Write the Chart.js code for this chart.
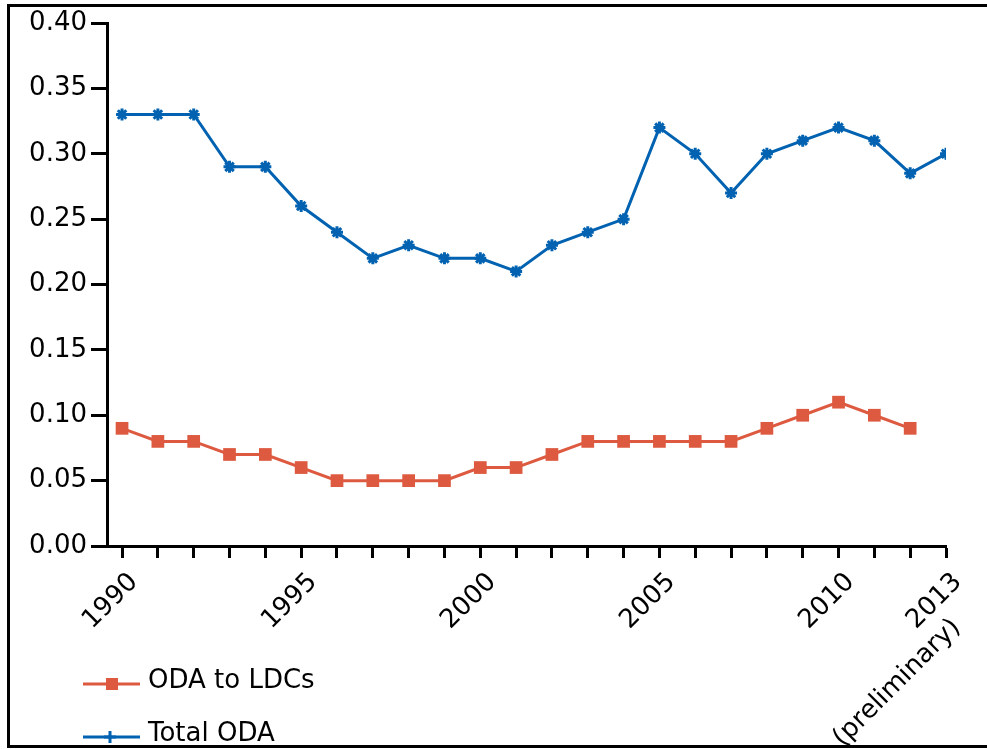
<!DOCTYPE html>
<html>
<head>
<meta charset="utf-8">
<script src="https://cdn.jsdelivr.net/npm/chart.js@4/dist/chart.umd.min.js"></script>
<style>
  body { margin: 0; background: #fff; overflow: hidden; }
  #frame { position: absolute; left: 7px; top: 4px; width: 1000px; height: 738px; border: 3px solid #000; }
  #wrap { position: absolute; left: 0; top: 0; width: 987px; height: 749px; }
</style>
</head>
<body>
<div id="frame"></div>
<div id="wrap"><canvas id="myChart" width="987" height="749"></canvas></div>
<script>
// años y valores (% del GNI)
const years = [1990, 1991, 1992, 1993, 1994, 1995, 1996, 1997, 1998, 1999, 2000, 2001,
               2002, 2003, 2004, 2005, 2006, 2007, 2008, 2009, 2010, 2011, 2012, 2013]
const odaLdcs = [0.09, 0.08, 0.08, 0.07, 0.07, 0.06, 0.05, 0.05, 0.05, 0.05, 0.06, 0.06,
                 0.07, 0.08, 0.08, 0.08, 0.08, 0.08, 0.09, 0.10, 0.11, 0.10, 0.09, null]
const totalOda = [0.33, 0.33, 0.33, 0.29, 0.29, 0.26, 0.24, 0.22, 0.23, 0.22, 0.22, 0.21,
                  0.23, 0.24, 0.25, 0.32, 0.30, 0.27, 0.30, 0.31, 0.32, 0.31, 0.285, 0.30]
const yearLabels = { 1990: "1990", 1995: "1995", 2000: "2000", 2005: "2005", 2010: "2010",
                     2013: ["2013", "(preliminary)    "] }
const legendNames = ["ODA to LDCs", "Total ODA"]

const RED = "#dd5a40"
const BLUE = "#0062b0"
const FONT = "'DejaVu Sans', sans-serif"

// leyenda vertical abajo a la izquierda
const legendPlugin = {
  id: "legendaVertical",
  afterDraw(chart) {
    const ctx = chart.ctx
    const rows = [
      { y: 684, color: RED, name: legendNames[0], mark: "rect" },
      { y: 737, color: BLUE, name: legendNames[1], mark: "star" }
    ]
    ctx.save()
    rows.forEach((r) => {
      ctx.strokeStyle = r.color
      ctx.fillStyle = r.color
      ctx.lineWidth = 3
      ctx.beginPath()
      ctx.moveTo(83, r.y)
      ctx.lineTo(140, r.y)
      ctx.stroke()
      if (r.mark === "rect") {
        ctx.fillRect(106, r.y - 6, 12, 12)
      } else {
        ctx.beginPath()
        ctx.moveTo(110, r.y - 6); ctx.lineTo(110, r.y + 6)
        ctx.moveTo(104, r.y); ctx.lineTo(116, r.y)
        ctx.stroke()
      }
      ctx.fillStyle = "#000"
      ctx.font = "26px " + FONT
      ctx.textBaseline = "middle"
      ctx.textAlign = "left"
      ctx.fillText(r.name, 148, r.y - 3)
    })
    ctx.restore()
  }
}

const data = {
  datasets: [
    {
      label: legendNames[0],
      data: years.map((y, i) => ({ x: y, y: odaLdcs[i] })),
      borderColor: RED,
      backgroundColor: RED,
      borderWidth: 3,
      pointStyle: "rect",
      pointRadius: 9,
      pointBorderWidth: 0,
      tension: 0
    },
    {
      label: legendNames[1],
      data: years.map((y, i) => ({ x: y, y: totalOda[i] })),
      borderColor: BLUE,
      backgroundColor: BLUE,
      borderWidth: 3,
      pointStyle: "star",
      pointRadius: 6,
      pointBorderWidth: 3,
      tension: 0
    }
  ]
}

const config = {
  type: "line",
  data,
  plugins: [legendPlugin],
  options: {
    responsive: false,
    animation: false,
    layout: { padding: { left: 0, top: 23, right: 41, bottom: 0 } },
    plugins: { legend: { display: false }, tooltip: { enabled: false } },
    scales: {
      x: {
        type: "linear",
        min: 1989.58,
        max: 2013,
        afterBuildTicks: (s) => { s.ticks = years.map((v) => ({ value: v })) },
        afterFit: (s) => {
          s.height = 203
          s.paddingLeft = 0
          s.paddingRight = 0
        },
        border: { color: "#000", width: 3 },
        grid: { drawOnChartArea: false, color: "#000", tickLength: 12, tickWidth: 3 },
        ticks: {
          autoSkip: false,
          minRotation: 45,
          maxRotation: 45,
          padding: 9,
          labelOffset: 12,
          color: "#000",
          font: { family: FONT, size: 26 },
          callback: (v) => yearLabels[v] || ""
        }
      },
      y: {
        min: 0,
        max: 0.4,
        afterFit: (s) => { s.width = 107 },
        border: { color: "#000", width: 3 },
        grid: { drawOnChartArea: false, color: "#000", tickLength: 16, tickWidth: 3 },
        ticks: {
          stepSize: 0.05,
          padding: 4,
          color: "#000",
          font: { family: FONT, size: 26 },
          callback: (v) => v.toFixed(2)
        }
      }
    }
  }
}

const myChartElement = document.getElementById("myChart")
window.myChartInstance = new Chart(myChartElement, config)
</script>
</body>
</html>
